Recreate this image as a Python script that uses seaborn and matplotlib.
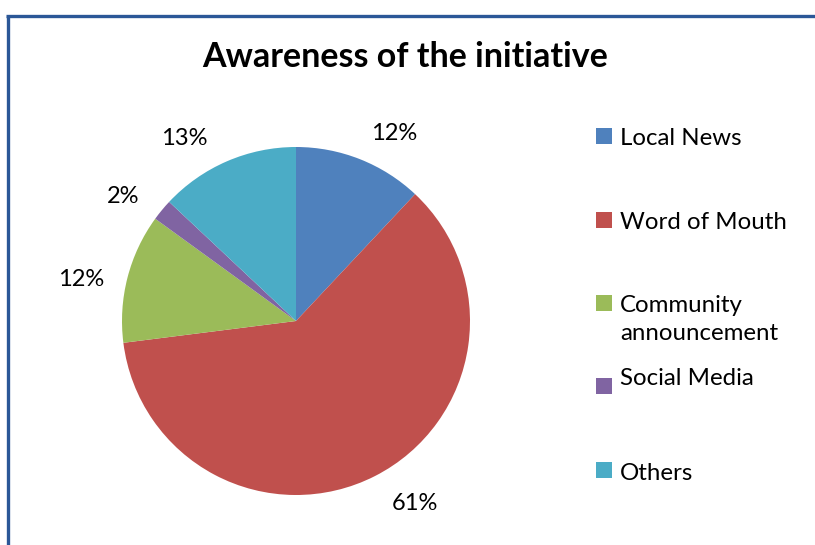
import numpy as np
import matplotlib
matplotlib.use("Agg")
import matplotlib.pyplot as plt
from matplotlib.patches import Rectangle
from matplotlib.lines import Line2D
import seaborn as sns

# Survey responses: how people heard about the initiative
sources = ["Local News", "Word of Mouth", "Community\nannouncement", "Social Media", "Others"]
shares = [12, 61, 12, 2, 13]
slice_colors = ["#4F81BD", "#C0504D", "#9BBB59", "#8064A2", "#4BACC6"]

sns.set_theme(style="white")
sns.set_palette(slice_colors)
plt.rcParams["font.family"] = ["Lato", "DejaVu Sans"]

W, H = 815, 545
fig = plt.figure(figsize=(W / 100, H / 100), dpi=100)
fig.patch.set_facecolor("white")


def fx(px):
    return px / W


def fy(py):
    return 1 - py / H


# chart frame (left and top edges visible)
frame_color = "#2B5797"
fig.add_artist(Line2D([fx(7.5), fx(7.5)], [fy(15.5), 0], transform=fig.transFigure,
                      color=frame_color, lw=2.4, solid_capstyle="butt"))
fig.add_artist(Line2D([fx(6), 1], [fy(15.5), fy(15.5)], transform=fig.transFigure,
                      color=frame_color, lw=2.4, solid_capstyle="butt"))

# title
fig.text(fx(405), fy(67), "Awareness of the initiative", ha="center", va="baseline",
         fontsize=24.5, fontweight="bold", color="black")

# pie
cx, cy, r = 296, 321, 174
ax = fig.add_axes([fx(cx - r), 1 - (cy + r) / H, 2 * r / W, 2 * r / H])
wedges, texts, autotexts = ax.pie(
    shares, colors=slice_colors, startangle=90, counterclock=False,
    autopct=lambda p: f"{round(p)}%", pctdistance=1.23,
    wedgeprops=dict(linewidth=0), textprops=dict(fontsize=17, color="black"),
)
ax.set_xlim(-1, 1)
ax.set_ylim(-1, 1)
ax.axis("off")

# nudge the percentage labels around the rim (best-fit placement)
label_shift = [-6, 6, 3.5, 4, 8]
label_dist = [1.215, 1.25, 1.255, 1.225, 1.23]
for t, w, d_ang, dist in zip(autotexts, wedges, label_shift, label_dist):
    ang = np.deg2rad((w.theta1 + w.theta2) / 2 + d_ang)
    t.set_position((dist * np.cos(ang), dist * np.sin(ang)))
    t.set_ha("center")
    t.set_va("center")

# legend
square_y = [136, 219.5, 303, 386, 470]
text_base = [145, 229, 312, 385, 480]
for name, color, sy, tb in zip(sources, slice_colors, square_y, text_base):
    fig.add_artist(Rectangle((fx(596), fy(sy + 8)), 16 / W, 16 / H,
                             transform=fig.transFigure, facecolor=color, edgecolor="none"))
    lines = name.split("\n")
    for i, line in enumerate(lines):
        fig.text(fx(620), fy(tb + 28 * i), line, ha="left", va="baseline",
                 fontsize=17.3, color="black")

fig.savefig("out.png", dpi=100, facecolor="white")
